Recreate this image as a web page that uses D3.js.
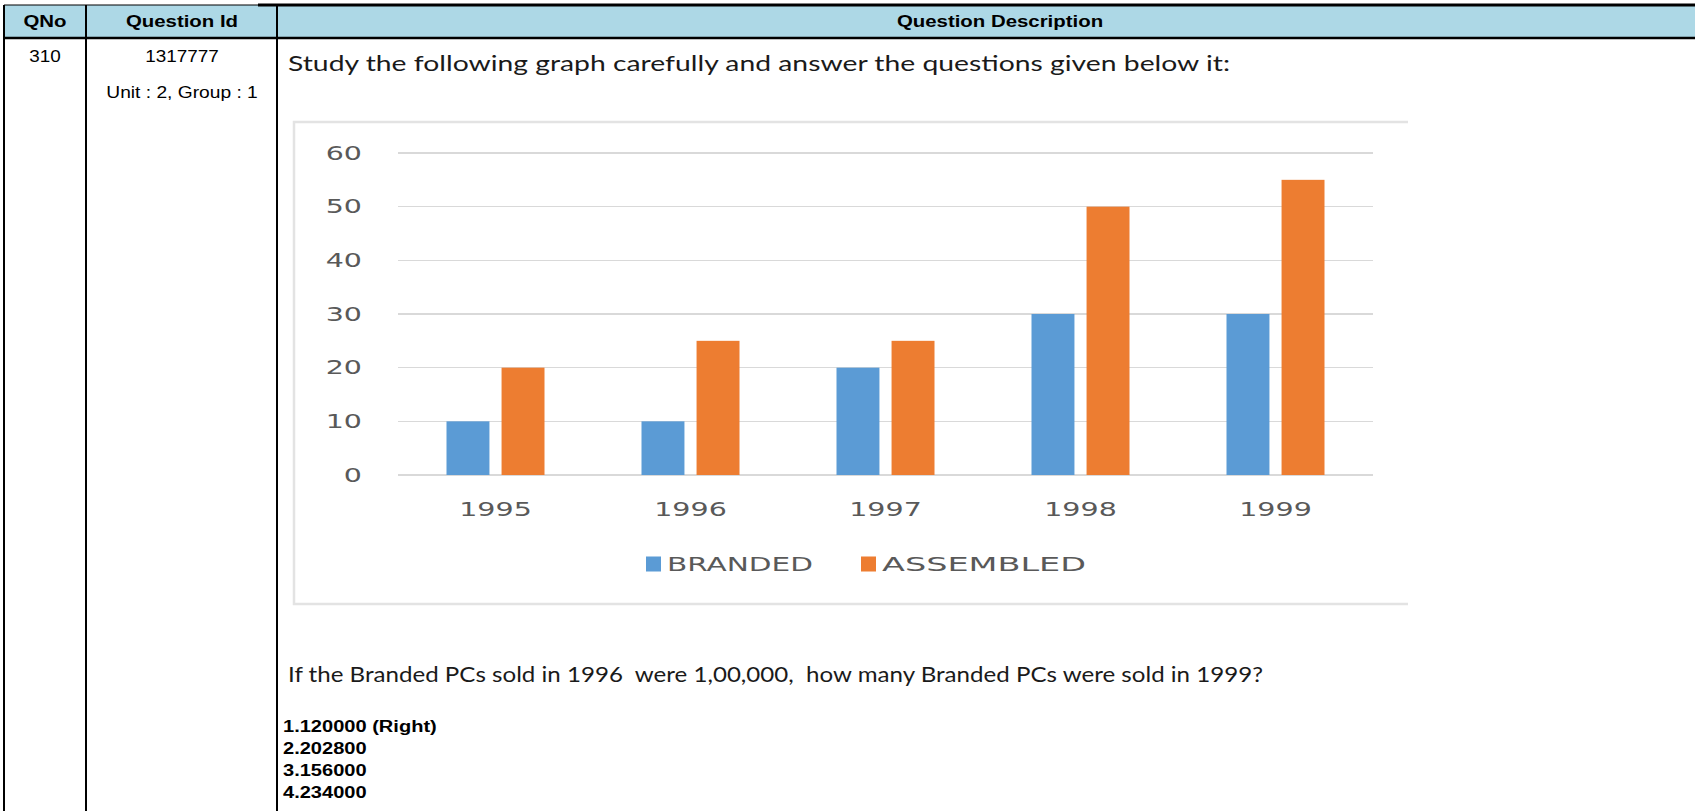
<!DOCTYPE html>
<meta charset="utf-8">
<head>
<style>
  body { margin: 0; background: #ffffff; }
  .grid line { stroke: #d9d9d9; stroke-width: 1.5px; shape-rendering: crispEdges; }
  .axis path { display: none; }
  .axis text { fill: #595959; font-family: "DejaVu Sans", Verdana, sans-serif; font-size: 19px; }
  .tbl text { font-family: "Liberation Sans", Arial, sans-serif; fill: #000; }
</style>
</head>
<body>
<svg id="page" width="1695" height="811"></svg>
<script src="https://d3js.org/d3.v7.min.js"></script>
<script>
// chart data
var years = ["1995", "1996", "1997", "1998", "1999"];
var branded = [10, 10, 20, 30, 30];
var assembled = [20, 25, 25, 50, 55];
var seriesNames = ["BRANDED", "ASSEMBLED"];
var seriesColors = ["#5b9bd5", "#ed7d31"];
var yTicks = [0, 10, 20, 30, 40, 50, 60];

// page text
var headers = ["QNo", "Question Id", "Question Description"];
var qNo = "310", qId = "1317777", qUnit = "Unit : 2, Group : 1";
var intro = "Study the following graph carefully and answer the questions given below it:";
var question = "If the Branded PCs sold in 1996  were 1,00,000,  how many Branded PCs were sold in 1999?";
var answers = ["1.120000 (Right)", "2.202800", "3.156000", "4.234000"];

var svg = d3.select("#page");

// text stretched sideways, like the screenshot
function txt(g, x, y, s, size, anchor, sx, weight, color, family) {
  return g.append("text")
    .attr("transform", "translate(" + x + "," + y + ") scale(" + sx + ",1)")
    .attr("dy", "0.35em")
    .attr("text-anchor", anchor)
    .style("font-size", size + "px")
    .style("font-weight", weight || "normal")
    .style("fill", color || "#000")
    .style("font-family", family || null)
    .style("white-space", "pre")
    .text(s);
}

// ---- table ----
var tbl = svg.append("g").attr("class", "tbl");
var cols = [4, 86, 277];

tbl.append("rect").attr("x", 4).attr("y", 5).attr("width", 1691).attr("height", 32).attr("fill", "#add8e6");
tbl.append("line").attr("x1", 258).attr("x2", 1695).attr("y1", 5).attr("y2", 5).attr("stroke", "#000").attr("stroke-width", 3);
tbl.append("line").attr("x1", 4).attr("x2", 258).attr("y1", 5).attr("y2", 5).attr("stroke", "#000").attr("stroke-width", 1);
tbl.append("line").attr("x1", 4).attr("x2", 1695).attr("y1", 38).attr("y2", 38).attr("stroke", "#000").attr("stroke-width", 2.5);
cols.forEach(function(c) {
  tbl.append("line").attr("x1", c).attr("x2", c).attr("y1", 5).attr("y2", 811).attr("stroke", "#000").attr("stroke-width", 2);
});

var headCx = [45, 182, 1000];
headers.forEach(function(h, i) {
  txt(tbl, headCx[i], 21, h, 17, "middle", 1.2, "bold");
});
txt(tbl, 45, 56, qNo, 16, "middle", 1.18);
txt(tbl, 182, 56, qId, 16, "middle", 1.18);
txt(tbl, 182, 92, qUnit, 16, "middle", 1.2);

var cal = "Lato, 'Open Sans', sans-serif";
txt(svg, 288, 63, intro, 22, "start", 1, "normal", "#1a1a1a", cal).attr("textLength", 942).attr("lengthAdjust", "spacingAndGlyphs");
txt(svg, 288, 674, question, 22, "start", 1, "normal", "#1a1a1a", cal).attr("textLength", 975).attr("lengthAdjust", "spacingAndGlyphs");

answers.forEach(function(a, i) {
  txt(tbl, 283, 726 + i * 22, a, 17, "start", 1.18, "bold");
});

// ---- chart ----
var chart = svg.append("g");
chart.append("path")
  .attr("d", "M1408,122H294V604H1408")
  .attr("fill", "none").attr("stroke", "#e3e3e3").attr("stroke-width", 2.5);

var x0 = d3.scaleBand().domain(years).range([398, 1373]);
var half = x0.bandwidth() / 2;
var x1 = d3.scaleBand().domain(seriesNames).range([half - 49, half + 49]).paddingInner(0.22);
var y = d3.scaleLinear().domain([0, 60]).range([475, 153]);

chart.append("g").attr("class", "grid")
  .selectAll("line").data(yTicks).enter().append("line")
  .attr("x1", 398).attr("x2", 1373)
  .attr("y1", function(d) { return y(d); })
  .attr("y2", function(d) { return y(d); });

var sx = 1.5;
var yAxis = chart.append("g").attr("class", "axis")
  .attr("transform", "translate(398,0)")
  .call(d3.axisLeft(y).tickValues(yTicks).tickSize(0).tickPadding(36));
yAxis.selectAll("text").attr("transform", "scale(" + sx + ",1)").attr("x", -36 / sx);

var xAxis = chart.append("g").attr("class", "axis")
  .attr("transform", "translate(0,475)")
  .call(d3.axisBottom(x0).tickSize(0).tickPadding(28));
xAxis.selectAll("text").attr("transform", "scale(" + sx + ",1)");

var rows = years.map(function(yr, i) {
  return { year: yr, values: [branded[i], assembled[i]] };
});

chart.selectAll(".grp").data(rows).enter().append("g")
  .attr("class", "grp")
  .attr("transform", function(d) { return "translate(" + x0(d.year) + ",0)"; })
  .selectAll("rect")
  .data(function(d) { return d.values.map(function(v, j) { return { key: seriesNames[j], value: v, c: seriesColors[j] }; }); })
  .enter().append("rect")
  .attr("x", function(d) { return x1(d.key); })
  .attr("width", x1.bandwidth())
  .attr("y", function(d) { return y(d.value); })
  .attr("height", function(d) { return y(0) - y(d.value); })
  .attr("fill", function(d) { return d.c; });

// legend
var legX = [646, 861];
var legW = [146, 204];
var leg = chart.selectAll(".leg").data(seriesNames).enter().append("g")
  .attr("class", "leg")
  .attr("transform", function(d, i) { return "translate(" + legX[i] + ",564)"; });
leg.append("rect").attr("x", 0).attr("y", -7.5).attr("width", 15).attr("height", 15)
  .attr("fill", function(d, i) { return seriesColors[i]; });
leg.append("text")
  .attr("x", 21)
  .attr("dy", "0.35em")
  .attr("textLength", function(d, i) { return legW[i]; })
  .attr("lengthAdjust", "spacingAndGlyphs")
  .style("font-family", "'DejaVu Sans', Verdana, sans-serif")
  .style("font-size", "20px")
  .style("fill", "#595959")
  .text(function(d) { return d; });
</script>
</body>
</html>
